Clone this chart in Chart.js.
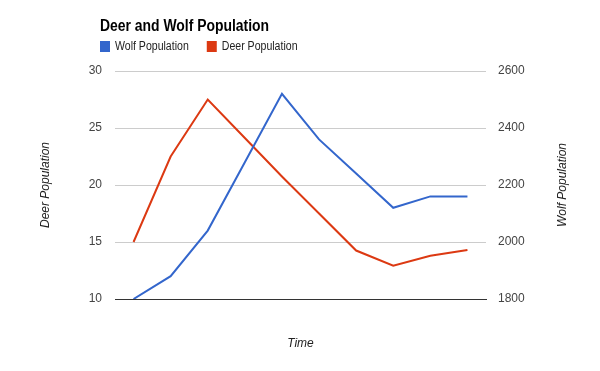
<!DOCTYPE html>
<html>
<head>
<meta charset="utf-8">
<script src="https://cdn.jsdelivr.net/npm/chart.js@4/dist/chart.umd.min.js"></script>
<style>
  html, body { margin: 0; padding: 0; background: #fff; }
  #wrap { width: 600px; height: 371px; position: relative; }
</style>
</head>
<body>
<div id="wrap"><canvas id="c" width="600" height="371"></canvas></div>
<script>
const chartTitle = "Deer and Wolf Population";
const timeLabels = ["1", "2", "3", "4", "5", "6", "7", "8", "9", "10"];
const wolfValues = [10, 12, 16, 22, 28, 24, 21, 18, 19, 19];
const deerValues = [2000, 2300, 2500, 2365, 2230, 2100, 1970, 1917, 1952, 1972];
const leftTicks = [10, 15, 20, 25, 30];
const rightTicks = [1800, 2000, 2200, 2400, 2600];
const xTitle = "Time";
const leftTitle = "Deer Population";
const rightTitle = "Wolf Population";

const FONT = "'Liberation Sans', Arial, sans-serif";

function condensedText(ctx, text, x, y, sx) {
  ctx.save();
  ctx.translate(x, y);
  ctx.scale(sx, 1);
  ctx.fillText(text, 0, 0);
  ctx.restore();
  return ctx.measureText(text).width * sx;
}

const textPlugin = {
  id: 'textPlugin',
  afterDraw(chart) {
    const ctx = chart.ctx;
    const area = chart.chartArea;
    ctx.save();
    // title
    ctx.fillStyle = '#000';
    ctx.font = "bold 16px " + FONT;
    ctx.textAlign = 'left';
    ctx.textBaseline = 'middle';
    condensedText(ctx, chartTitle, 100, 27, 0.87);
    // legend
    ctx.font = "12px " + FONT;
    let x = 100;
    chart.data.datasets.forEach(ds => {
      ctx.fillStyle = ds.borderColor;
      ctx.fillRect(x, 41, 10, 11);
      ctx.fillStyle = '#222';
      const w = condensedText(ctx, ds.label, x + 15, 47, 0.88);
      x += 15 + w + 18;
    });
    // axis titles
    ctx.font = "italic 12px " + FONT;
    ctx.fillStyle = '#222';
    ctx.textAlign = 'center';
    ctx.fillText(xTitle, (area.left + area.right) / 2, 344);
    const cy = (area.top + area.bottom) / 2;
    [[46, leftTitle], [563, rightTitle]].forEach(([tx, t]) => {
      ctx.save();
      ctx.translate(tx, cy);
      ctx.rotate(-Math.PI / 2);
      ctx.fillText(t, 0, 0);
      ctx.restore();
    });
    ctx.restore();
  }
};

new Chart(document.getElementById('c'), {
  type: 'line',
  data: {
    labels: timeLabels,
    datasets: [
      { label: 'Wolf Population', data: wolfValues, yAxisID: 'y',
        borderColor: '#3366cc', backgroundColor: '#3366cc', borderWidth: 2,
        pointRadius: 0, tension: 0 },
      { label: 'Deer Population', data: deerValues, yAxisID: 'y1',
        borderColor: '#dc3912', backgroundColor: '#dc3912', borderWidth: 2,
        pointRadius: 0, tension: 0 }
    ]
  },
  options: {
    responsive: false,
    animation: false,
    layout: { padding: { top: 71, left: 0, right: 0, bottom: 0 } },
    plugins: { legend: { display: false }, title: { display: false }, tooltip: { enabled: false } },
    scales: {
      x: {
        type: 'category', offset: true,
        ticks: { display: false },
        grid: { display: false, drawTicks: false },
        border: { display: true, color: '#333', width: 1 },
        afterFit(s) { s.height = 72; }
      },
      y: {
        position: 'left', min: 10, max: 30,
        afterBuildTicks(s) { s.ticks = leftTicks.map(v => ({ value: v })); },
        ticks: { color: '#444', font: { family: FONT, size: 12 }, padding: 13,
                 callback: v => String(v) },
        grid: { color: '#cccccc', drawTicks: false },
        border: { display: false },
        afterFit(s) { s.width = 115; }
      },
      y1: {
        position: 'right', min: 1800, max: 2600,
        afterBuildTicks(s) { s.ticks = rightTicks.map(v => ({ value: v })); },
        ticks: { color: '#444', font: { family: FONT, size: 12 }, padding: 12,
                 callback: v => String(v) },
        grid: { display: false, drawTicks: false },
        border: { display: false },
        afterFit(s) { s.width = 114; }
      }
    }
  },
  plugins: [textPlugin]
});
</script>
</body>
</html>
